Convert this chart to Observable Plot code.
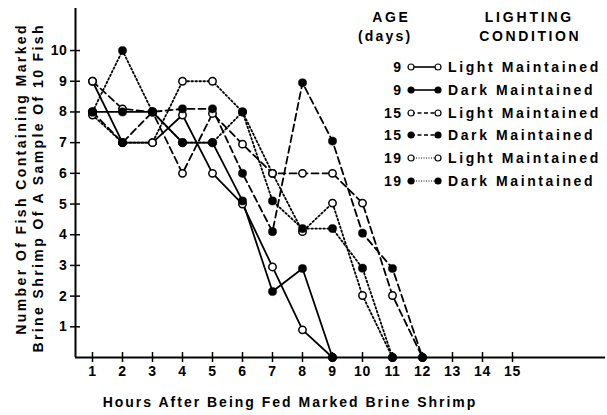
<!DOCTYPE html>
<html><head><meta charset="utf-8">
<script src="https://cdn.jsdelivr.net/npm/d3@7"></script>
<script src="https://cdn.jsdelivr.net/npm/@observablehq/plot@0.6"></script>
<style>
body{margin:0;background:#fff;}
#wrap{position:relative;width:607px;height:415px;overflow:hidden;font-family:"Liberation Sans",Arial,sans-serif;font-weight:bold;color:#000;}
#wrap svg{position:absolute;left:0;top:0;}
.t{position:absolute;white-space:nowrap;font-size:14px;letter-spacing:2.4px;line-height:17px;}
</style></head><body><div id="wrap"></div>
<script>
// ---- data ----
const hours = [1,2,3,4,5,6,7,8,9,10,11,12];
const light9  = [9,7,7,7.9,6,5,2.95,0.9,0];
const dark9   = [8,8,8,7,7,5.1,2.15,2.9,0];
const light15 = [9,8.1,8,6,7.95,6.95,6,6,6,5.03,2.02,0];
const dark15  = [8,7,8,8.1,8.1,6,4.1,8.95,7.05,4.05,2.9,0];
const light19 = [7.9,7,7,9,9,8,6,4.1,5.03,2.02,0];
const dark19  = [8,10,8,7,7,8,5.1,4.2,4.2,2.91,0];
const seriesAge = ["9","9","15","15","19","19"];
const seriesCond = ["Light Maintained","Dark Maintained","Light Maintained","Dark Maintained","Light Maintained","Dark Maintained"];
const seriesValues = [light9, dark9, light15, dark15, light19, dark19];
const xTicks = [1,2,3,4,5,6,7,8,9,10,11,12,13,14,15];
const yTicks = [1,2,3,4,5,6,7,8,9,10];
const xDomain = [0.4333, 18.1];
const yDomain = [0, 11.37];
const titleX = "Hours After Being Fed Marked Brine Shrimp";
const titleY = ["Number Of Fish Containing Marked", "Brine Shrimp Of A Sample Of 10 Fish"];
const legendHead = [["AGE","(days)"],["LIGHTING","CONDITION"]];

// ---- styles ----
const dashByAge = {"9": null, "15": "7,4", "19": "1.6,2.4"};

const rows = [];
seriesValues.forEach((vals, s) => {
  vals.forEach((v, i) => rows.push({hour: hours[i], value: v, s, age: seriesAge[s], light: seriesCond[s].startsWith("Light")}));
});

const lineMarks = seriesValues.map((vals, s) =>
  Plot.line(rows.filter(d => d.s === s), {x: "hour", y: "value", stroke: "black", strokeWidth: 1.8,
    strokeDasharray: dashByAge[seriesAge[s]] || undefined, curve: "linear"}));

const chart = Plot.plot({
  width: 607, height: 415,
  marginLeft: 75, marginRight: 2, marginTop: 8, marginBottom: 58,
  style: {fontFamily: "Liberation Sans, Arial, sans-serif", fontSize: "14px", fontWeight: "bold", letterSpacing: "0.6px", color: "black", background: "white"},
  x: {domain: xDomain, axis: null},
  y: {domain: yDomain, axis: null},
  marks: [
    ...lineMarks,
    Plot.dot(rows.filter(d => d.light), {x: "hour", y: "value", r: 3.7, fill: "white", stroke: "black", strokeWidth: 1.5}),
    Plot.dot(rows.filter(d => !d.light), {x: "hour", y: "value", r: 4.1, fill: "black", stroke: "black", strokeWidth: 0.5}),
    Plot.ruleY([yDomain[0]], {stroke: "black", strokeWidth: 2}),
    Plot.ruleX([xDomain[0]], {stroke: "black", strokeWidth: 2}),
    Plot.axisX({ticks: xTicks, tickSize: 10, dy: -5, fill: "none", label: null, strokeWidth: 1.5}),
    Plot.axisX({ticks: xTicks, tickSize: 0, tickPadding: 9, label: null, tickFormat: d => String(d)}),
    Plot.axisY({ticks: yTicks, tickSize: 10, dx: 5, fill: "none", label: null, strokeWidth: 1.5}),
    Plot.axisY({ticks: yTicks, tickSize: 0, tickPadding: 8, label: null, tickFormat: d => String(d)})
  ]
});
const wrap = document.getElementById("wrap");
wrap.appendChild(chart);

function addText(txt, x, y, align, spacing) {
  const d = document.createElement("div");
  d.className = "t";
  d.textContent = txt;
  if (spacing != null) d.style.letterSpacing = spacing + "px";
  const ls = spacing != null ? spacing : 2.4;
  const adj = align === "center" ? ls / 2 : align === "right" ? ls : 0;
  d.style.left = (x + adj) + "px";
  d.style.top = y + "px";
  const tx = align === "center" ? "-50%" : align === "right" ? "-100%" : "0";
  d.style.transform = `translate(${tx},-50%)`;
  wrap.appendChild(d);
  return d;
}

// x title
addText(titleX, 289, 402, "center", 2.0);
// y title (two lines, rotated, ends aligned at top)
const yt = document.createElement("div");
yt.className = "t";
const W = 380;
yt.style.width = W + "px";
yt.style.textAlign = "right";
yt.style.left = (29.5 - W / 2) + "px";
yt.style.top = (25 + W / 2 - 17 - 2.4) + "px";
yt.style.height = "34px";
yt.style.letterSpacing = "2.4px";
yt.style.transform = "rotate(-90deg)";
yt.innerHTML = titleY.map(s => `<div>${s}</div>`).join("");
wrap.appendChild(yt);

// legend headers
addText(legendHead[0][0], 390, 17, "center", 2.6);
addText(legendHead[0][1], 384, 36, "center", 2.2);
addText(legendHead[1][0], 528, 17, "center", 2.8);
addText(legendHead[1][1], 529, 36, "center", 2.6);

const rowY = [67, 90, 113, 135, 158, 181];
seriesAge.forEach((age, s) => {
  const y = rowY[s];
  addText(age, 401, y, "right", 1.5);
  const light = seriesCond[s].startsWith("Light");
  const dash = dashByAge[age];
  const sym = document.createElementNS("http://www.w3.org/2000/svg", "svg");
  sym.setAttribute("width", 40); sym.setAttribute("height", 12);
  sym.style.position = "absolute"; sym.style.left = "405px"; sym.style.top = (y - 6) + "px";
  sym.innerHTML = `<line x1="6" y1="6" x2="33" y2="6" stroke="black" stroke-width="${dash === "1.6,2.4" ? 1.2 : 1.6}" ${dash ? `stroke-dasharray="${dash === "7,4" ? "4,2.5" : "1,1.5"}"` : ""}/>` +
    `<circle cx="6" cy="6" r="3" fill="${light ? "white" : "black"}" stroke="black" stroke-width="1.2"/>` +
    `<circle cx="33" cy="6" r="3" fill="${light ? "white" : "black"}" stroke="black" stroke-width="1.2"/>`;
  wrap.appendChild(sym);
  addText(seriesCond[s], 448, y, "left", 2.6);
});
</script></body></html>
